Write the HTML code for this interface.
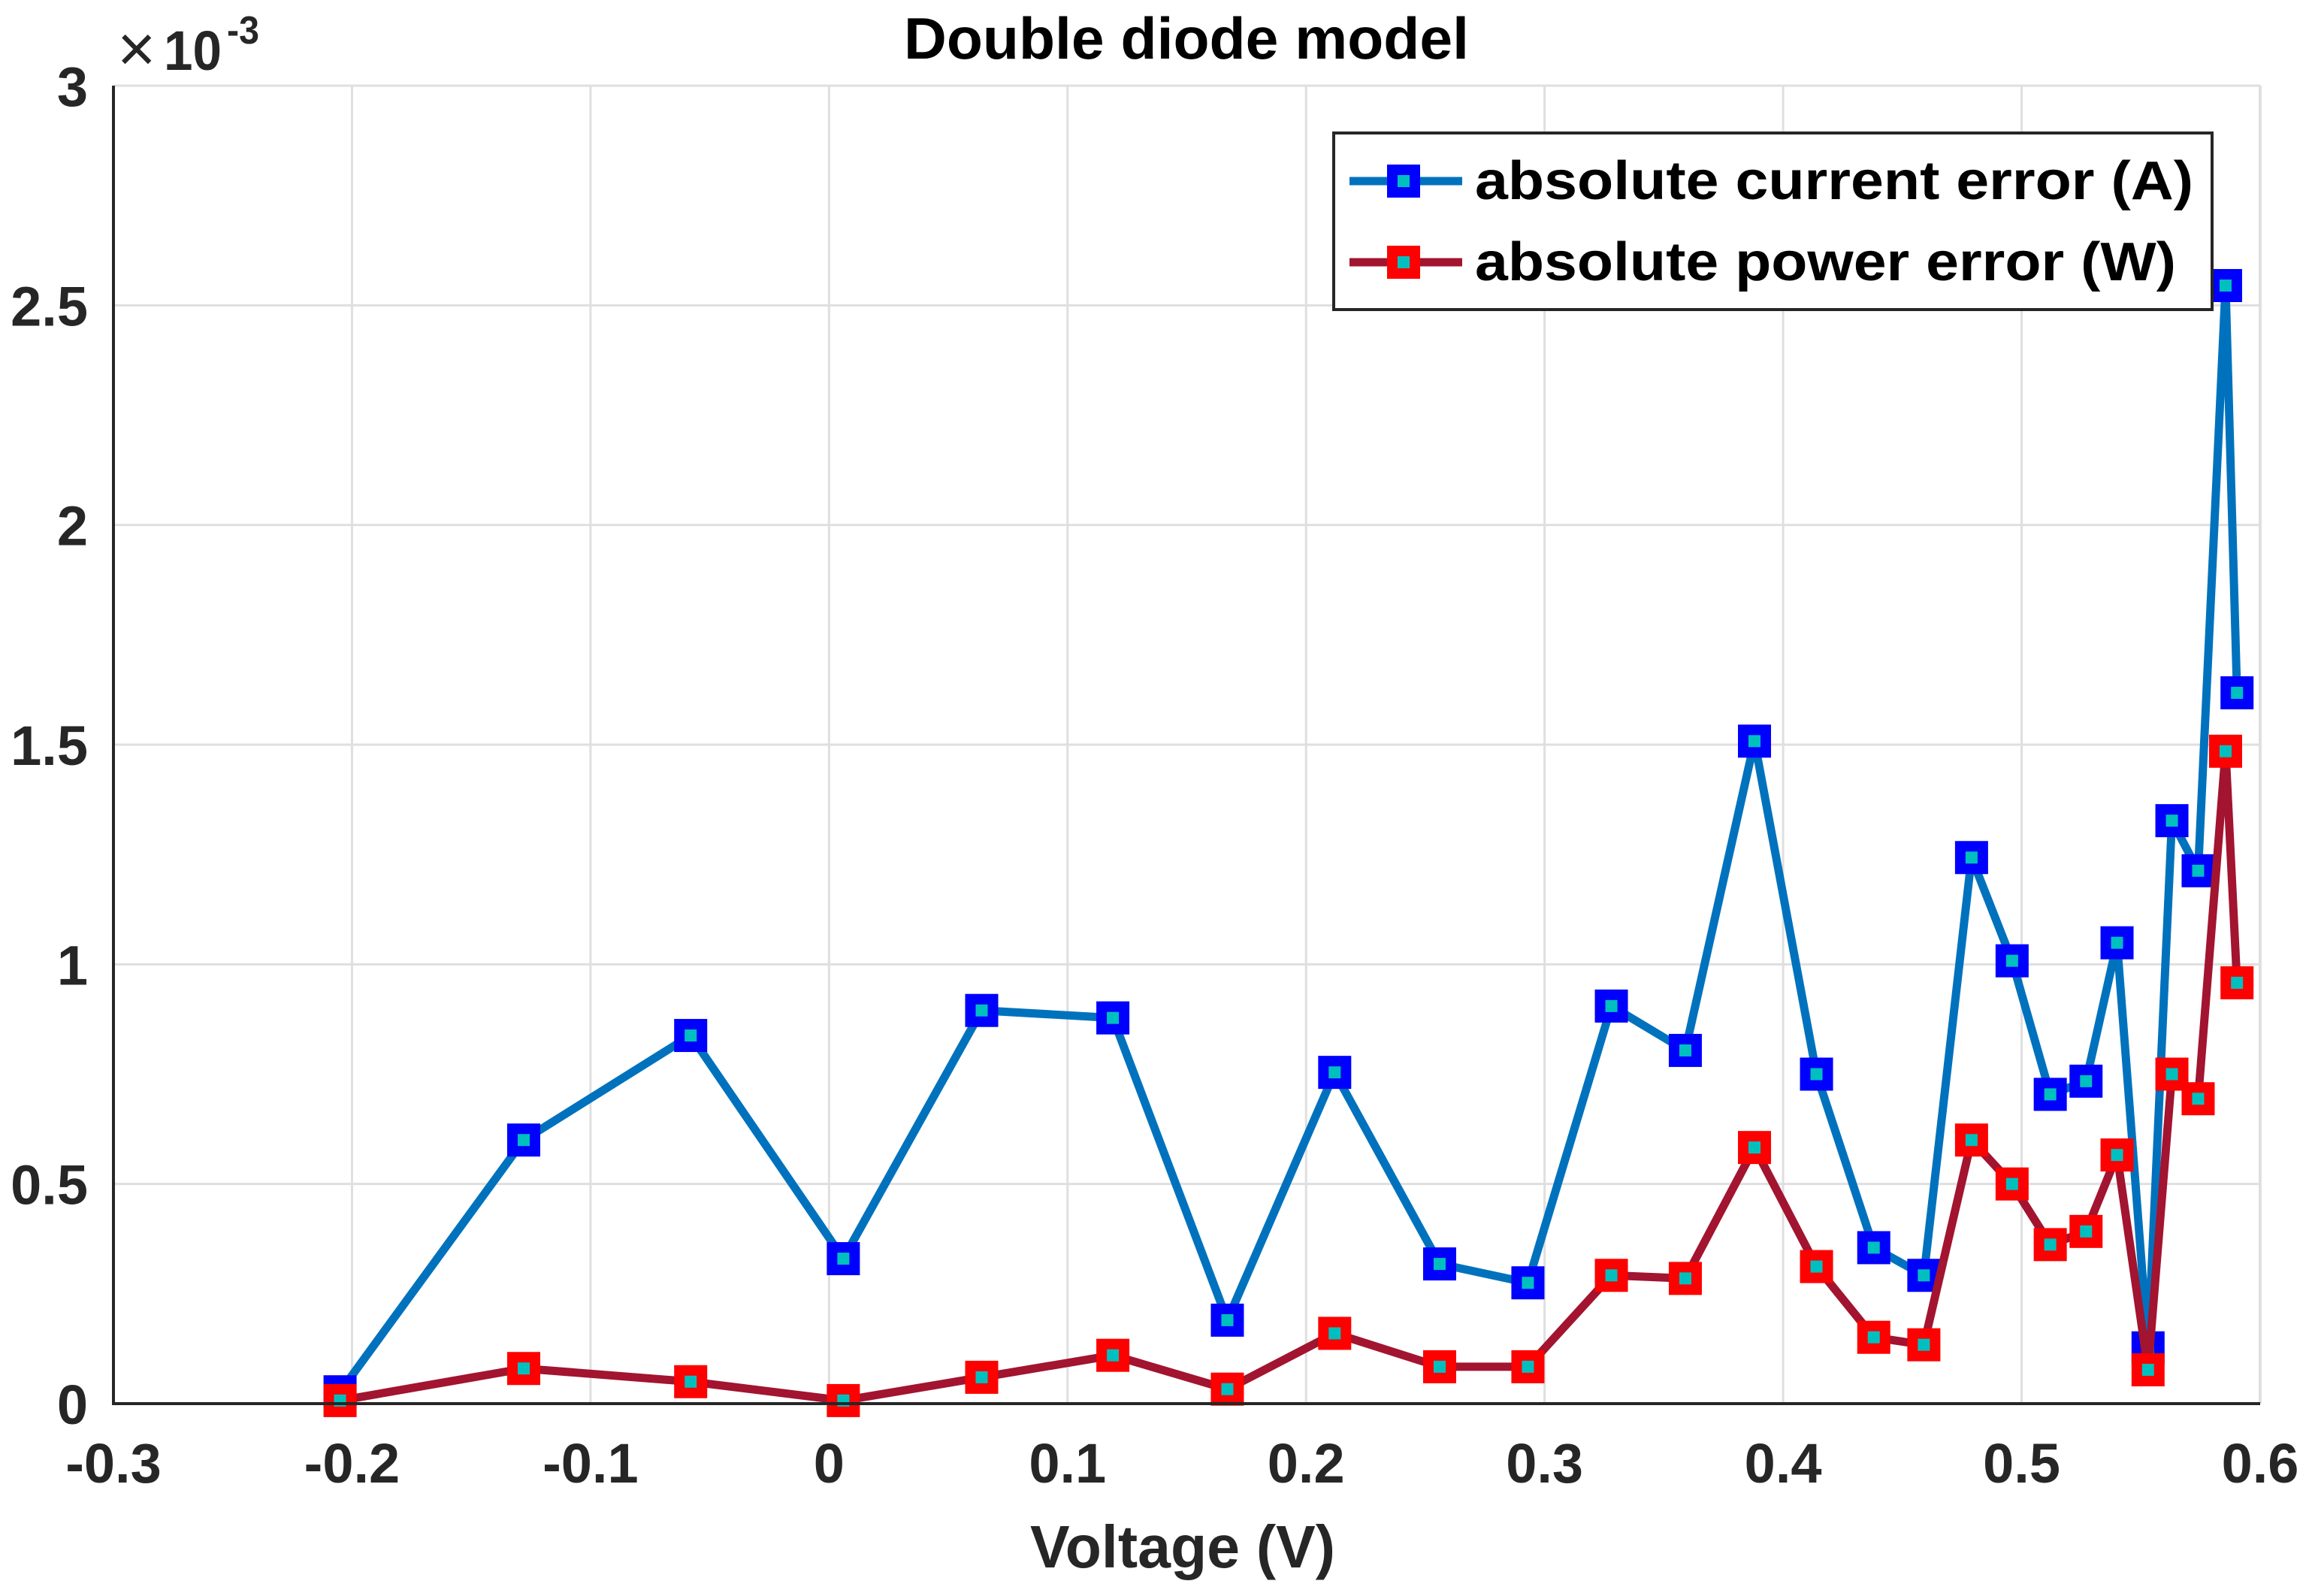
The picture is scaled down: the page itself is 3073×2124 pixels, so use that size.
<!DOCTYPE html>
<html><head><meta charset="utf-8"><style>
html,body{margin:0;padding:0;background:#fff;}
svg{display:block;font-family:"Liberation Sans",Arial,sans-serif;font-weight:bold;}
</style></head><body>
<svg id="chart" width="3073" height="2124" viewBox="0 0 3073 2124" xmlns="http://www.w3.org/2000/svg">
<rect x="0" y="0" width="3073" height="2124" fill="#fff"/>
<g id="grid"></g>
<g id="series"></g>
<path d="M151 114 V1868 H3008" fill="none" stroke="#262626" stroke-width="4"/>
<g id="xticks"></g>
<g id="yticks"></g>
<text x="1579" y="78" text-anchor="middle" font-size="78" fill="#000" textLength="752" lengthAdjust="spacingAndGlyphs">Double diode model</text>
<text x="1574" y="2086" text-anchor="middle" font-size="80" fill="#262626" textLength="406" lengthAdjust="spacingAndGlyphs">Voltage (V)</text>
<g fill="#262626">
<text x="156" y="95" font-size="88" font-weight="normal">×</text>
<text x="218" y="93" font-size="74" textLength="77" lengthAdjust="spacingAndGlyphs">10</text>
<text x="302" y="58" font-size="52" textLength="43" lengthAdjust="spacingAndGlyphs">-3</text>
</g>
<g>
<rect x="1775" y="177" width="1169" height="235" fill="#fff" stroke="#262626" stroke-width="4"/>
<line x1="1796" y1="241" x2="1946" y2="241" stroke="#0072BD" stroke-width="11"/>
<rect x="1853" y="226" width="30" height="30" fill="#00BFBF" stroke="#0000FF" stroke-width="14"/>
<text x="1963" y="265" font-size="72" fill="#000" textLength="956" lengthAdjust="spacingAndGlyphs">absolute current error (A)</text>
<line x1="1796" y1="349" x2="1946" y2="349" stroke="#A2142F" stroke-width="11"/>
<rect x="1853" y="334" width="30" height="30" fill="#00BFBF" stroke="#FF0000" stroke-width="14"/>
<text x="1963" y="373" font-size="72" fill="#000" textLength="933" lengthAdjust="spacingAndGlyphs">absolute power error (W)</text>
</g>
</svg>
<script>
const voltages = [-0.205,-0.128,-0.058,0.006,0.064,0.119,0.167,0.212,0.256,0.293,0.328,0.359,0.388,0.414,0.438,0.459,0.479,0.496,0.512,0.527,0.540,0.553,0.563,0.574,0.5855,0.5903];
const currentError = [0.027,0.60,0.838,0.33,0.895,0.878,0.19,0.754,0.318,0.275,0.905,0.804,1.508,0.75,0.355,0.292,1.243,1.008,0.704,0.734,1.049,0.127,1.327,1.213,2.545,1.618];
const powerError = [0.007,0.08,0.05,0.007,0.06,0.11,0.033,0.16,0.084,0.084,0.292,0.285,0.583,0.312,0.151,0.134,0.60,0.50,0.362,0.392,0.566,0.077,0.75,0.694,1.485,0.958];
const xTicks = [-0.3,-0.2,-0.1,0,0.1,0.2,0.3,0.4,0.5,0.6];
const xTickLabels = ["-0.3","-0.2","-0.1","0","0.1","0.2","0.3","0.4","0.5","0.6"];
const yTicks = [0,0.5,1,1.5,2,2.5,3];
const yTickLabels = ["0","0.5","1","1.5","2","2.5","3"];

const X0=151,X1=3008,Y0=1868,Y1=114;
function xs(v){return X0+(v+0.3)/0.9*(X1-X0);}
function ys(v){return Y0-v/3*(Y0-Y1);}
const NS="http://www.w3.org/2000/svg";
function mk(tag,parent,attrs){const e=document.createElementNS(NS,tag);for(const k in attrs)e.setAttribute(k,attrs[k]);parent.appendChild(e);return e;}
const grid=document.getElementById('grid'),xt=document.getElementById('xticks'),yt=document.getElementById('yticks'),ser=document.getElementById('series');
xTicks.forEach((t,i)=>{
  const x=xs(t);
  if(i>0&&i<xTicks.length-1){const g=mk('line',grid,{x1:x,y1:Y1,x2:x,y2:Y0,stroke:'#dfdfdf','stroke-width':3});
  
  }
  const l=mk('text',xt,{x:x,y:1973,'text-anchor':'middle','font-size':74,fill:'#262626'});
  l.textContent=xTickLabels[i];
  
  
});
mk('line',grid,{x1:X1,y1:Y1,x2:X1,y2:Y0,stroke:'#dfdfdf','stroke-width':4});
yTicks.forEach((t,i)=>{
  const y=ys(t);
  if(i>0){const g=mk('line',grid,{x1:X0,y1:y,x2:X1,y2:y,stroke:'#dfdfdf','stroke-width':3});
  
  }
  const l=mk('text',yt,{x:117,y:y+27,'text-anchor':'end','font-size':74,fill:'#262626'});
  l.textContent=yTickLabels[i];
  
  
});
function drawSeries(vals,lineColor,edge,name){
  const pts=voltages.map((v,i)=>xs(v)+','+ys(vals[i])).join(' ');
  const pl=mk('polyline',ser,{points:pts,fill:'none',stroke:lineColor,'stroke-width':11,'stroke-linejoin':'miter'});
  
  
  vals.forEach((v,i)=>{
    const r=mk('rect',ser,{x:xs(voltages[i])-15,y:ys(v)-15,width:30,height:30,fill:'#00BFBF',stroke:edge,'stroke-width':14});
    
    
  });
}
drawSeries(currentError,'#0072BD','#0000FF','current-error');
drawSeries(powerError,'#A2142F','#FF0000','power-error');
</script>
</body></html>
